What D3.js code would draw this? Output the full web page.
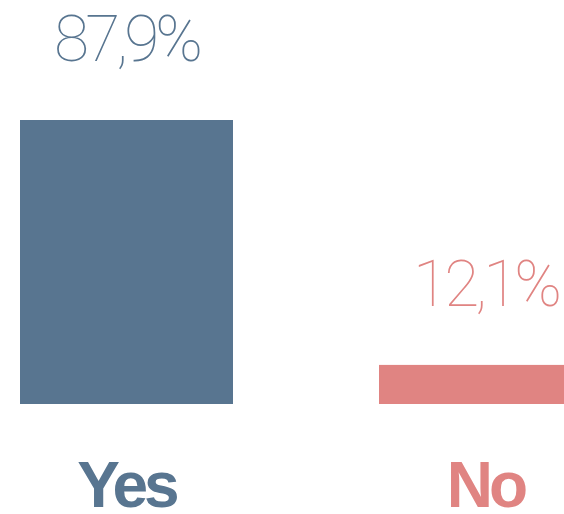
<!DOCTYPE html>
<html lang="en">
<head>
    <meta charset="UTF-8">
    <title>yes_no_bars</title>
    <script src="https://d3js.org/d3.v7.min.js"></script>
    <style>
        body {
            margin: 0;
            background: #fff;
            overflow: hidden;
        }
        .value {
            font-family: "Roboto", "Lato", sans-serif;
            font-weight: 100;
            font-size: 64px;
            letter-spacing: -4px;
            text-anchor: middle;
        }
        .cat {
            font-family: "Liberation Sans", Arial, sans-serif;
            font-weight: bold;
            font-size: 64px;
            letter-spacing: -4px;
            text-anchor: middle;
        }
    </style>
</head>
<body>
    <div id="chart"></div>
    <script>
        const categories = ["Yes", "No"];
        const values = [87.9, 12.1];
        const colors = ["#587590", "#e08482"];

        const width = 564;
        const height = 514;
        const baseY = 404; // bottom of the bars

        const svg = d3.select("#chart")
            .append("svg")
            .attr("width", width)
            .attr("height", height);

        const x = d3.scaleBand()
            .domain(categories)
            .range([20, 592])
            .paddingInner(0.4067)
            .paddingOuter(0);

        const y = d3.scaleLinear()
            .domain([0, d3.max(values)])
            .range([baseY, 120]);

        const locale = d3.formatLocale({decimal: ",", thousands: ".", grouping: [3], currency: ["", "%"]});
        const fmt = locale.format(".1f");

        const data = categories.map((c, i) => ({cat: c, val: values[i], color: colors[i]}));

        // bars
        svg.selectAll("rect")
            .data(data)
            .enter()
            .append("rect")
            .attr("x", d => x(d.cat))
            .attr("y", d => y(d.val))
            .attr("width", x.bandwidth())
            .attr("height", d => baseY - y(d.val))
            .attr("fill", d => d.color);

        // percentage labels above bars
        svg.selectAll(".value")
            .data(data)
            .enter()
            .append("text")
            .attr("class", "value")
            .attr("x", d => x(d.cat) + x.bandwidth() / 2)
            .attr("y", d => y(d.val) - 59)
            .attr("fill", d => d.color)
            .text(d => fmt(d.val) + "%");

        // category labels
        svg.selectAll(".cat")
            .data(data)
            .enter()
            .append("text")
            .attr("class", "cat")
            .attr("x", d => x(d.cat) + x.bandwidth() / 2)
            .attr("y", 507)
            .attr("fill", d => d.color)
            .text(d => d.cat);
    </script>
</body>
</html>
